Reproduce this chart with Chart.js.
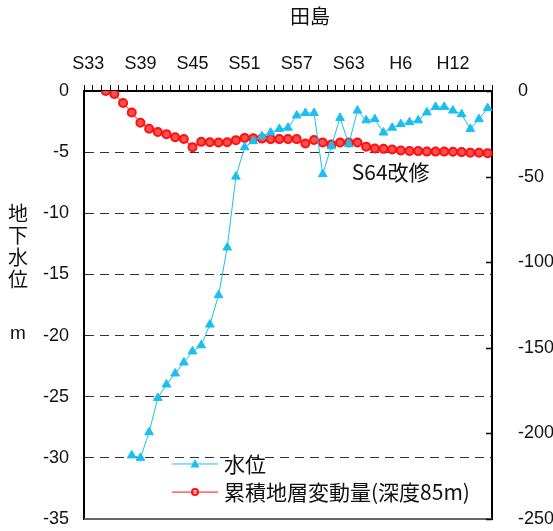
<!DOCTYPE html>
<html>
<head>
<meta charset="utf-8">
<script src="https://cdn.jsdelivr.net/npm/chart.js@4/dist/chart.umd.min.js"></script>
<style>
  body { margin: 0; background: #fff; }
  #wrap { width: 553px; height: 531px; }
</style>
</head>
<body>
<div id="wrap"><canvas id="chart" width="553" height="531"></canvas></div>
<script>
// Years: S33 .. S63, H1 .. H16
const years = [
    'S33','S34','S35','S36','S37','S38','S39','S40','S41','S42','S43','S44','S45','S46','S47','S48',
    'S49','S50','S51','S52','S53','S54','S55','S56','S57','S58','S59','S60','S61','S62','S63',
    'H1','H2','H3','H4','H5','H6','H7','H8','H9','H10','H11','H12','H13','H14','H15','H16'
];
const shownYears = ['S33','S39','S45','S51','S57','S63','H6','H12'];

// 水位 (m, left axis)
const waterLevel = [
    null, null, null, null, null,
    -29.8, -30.0, -27.9, -25.1, -24.0, -23.1, -22.2, -21.3, -20.8, -19.1, -16.7,
    -12.8, -7.0, -4.6, -4.1, -3.7, -3.4, -3.1, -3.0, -2.0, -1.8, -1.8, -6.8, -4.5, -2.2, -4.35,
    -1.6, -2.4, -2.3, -3.4, -3.0, -2.7, -2.55, -2.4, -1.75, -1.3, -1.3, -1.6, -1.9, -3.1, -2.3, -1.4
];

// 累積地層変動量 (cm, right axis)
const subsidence = [
    null, null,
    0, -1.7, -7.0, -12.6, -18.5, -22.1, -23.9, -25.2, -27.0, -28.0, -32.8, -29.7, -29.9, -30.1,
    -29.9, -28.7, -27.4, -27.6, -27.8, -28.1, -28.1, -28.1, -28.1, -30.7, -28.6, -30.1, -31.3, -30.1, -30.1,
    -30.1, -32.5, -33.6, -33.8, -34.2, -34.8, -35.0, -35.1, -35.4, -35.4, -35.4, -35.5, -35.7, -36.0, -36.1, -36.3
];

const BLUE = '#19BFF0';
const RED = '#FF1010';
const FONT = "'Liberation Sans', Arial, 'Noto Sans CJK JP', sans-serif";
const JP_FONT = "'Noto Sans CJK JP', 'Liberation Sans', sans-serif";

Chart.defaults.font.family = FONT;
Chart.defaults.font.size = 18;
Chart.defaults.color = '#111';

// extra drawing: title, axis title, legend, note, right ticks, bottom edge
const decorations = {
    id: 'decorations',
    afterDraw(chart) {
        const ctx = chart.ctx;
        const area = chart.chartArea;
        const x = chart.scales.x;
        const y = chart.scales.y;
        const y2 = chart.scales.y2;
        ctx.save();

        // bottom edge
        ctx.strokeStyle = '#666';
        ctx.lineWidth = 2;
        ctx.beginPath();
        ctx.moveTo(area.left, area.bottom);
        ctx.lineTo(area.right, area.bottom);
        ctx.stroke();

        // inward ticks on right axis
        ctx.strokeStyle = '#000';
        ctx.lineWidth = 1.5;
        y2.ticks.forEach(t => {
            const py = Math.round(y2.getPixelForValue(t.value)) + 0.5;
            ctx.beginPath();
            ctx.moveTo(area.right - 6, py);
            ctx.lineTo(area.right, py);
            ctx.stroke();
        });

        // title
        ctx.fillStyle = '#111';
        ctx.font = '20px ' + JP_FONT;
        ctx.textAlign = 'center';
        ctx.textBaseline = 'middle';
        ctx.fillText('田島', 310, 16);

        // vertical axis title
        const chars = ['地', '下', '水', '位'];
        chars.forEach((c, i) => ctx.fillText(c, 18, 213 + i * 22));
        ctx.font = '19px ' + FONT;
        ctx.fillText('m', 18, 334);

        // note
        ctx.font = '21px ' + JP_FONT;
        ctx.textAlign = 'left';
        ctx.fillText('S64改修', x.getPixelForValue(years.indexOf('S63')) + 3, y.getPixelForValue(-6.6));

        // legend
        const lx = area.left + 88;
        const items = [
            { text: '水位', color: BLUE, style: 'triangle', ly: y.getPixelForValue(-30.5) },
            { text: '累積地層変動量(深度85m)', color: RED, style: 'circle', ly: y.getPixelForValue(-32.8) }
        ];
        items.forEach(it => {
            ctx.strokeStyle = it.color;
            ctx.lineWidth = 1;
            ctx.beginPath();
            ctx.moveTo(lx, it.ly);
            ctx.lineTo(lx + 46, it.ly);
            ctx.stroke();
            ctx.fillStyle = it.color;
            ctx.beginPath();
            if (it.style === 'triangle') {
                ctx.moveTo(lx + 23, it.ly - 5);
                ctx.lineTo(lx + 27.5, it.ly + 3.5);
                ctx.lineTo(lx + 18.5, it.ly + 3.5);
                ctx.closePath();
                ctx.fill();
            } else {
                ctx.arc(lx + 23, it.ly, 3, 0, Math.PI * 2);
                ctx.lineWidth = 2;
                ctx.stroke();
            }
            ctx.fillStyle = '#111';
            ctx.font = '21px ' + JP_FONT;
            ctx.fillText(it.text, lx + 52, it.ly);
        });

        ctx.restore();
    }
};

// keep the plot area fixed: no extra room for edge labels
function noEdgePadding(s) {
    s.paddingTop = 0;
    s.paddingBottom = 0;
}

const ctx = document.getElementById('chart');

new Chart(ctx, {
    type: 'line',
    data: {
        labels: years,
        datasets: [
            {
                label: '水位',
                data: waterLevel,
                yAxisID: 'y',
                borderColor: BLUE,
                backgroundColor: BLUE,
                borderWidth: 1,
                pointStyle: 'triangle',
                pointRadius: 5,
                pointBorderWidth: 1,
                tension: 0
            },
            {
                label: '累積地層変動量(深度85m)',
                data: subsidence,
                yAxisID: 'y2',
                borderColor: RED,
                backgroundColor: '#FF5050',
                borderWidth: 1,
                pointStyle: 'circle',
                pointRadius: 4,
                pointBorderWidth: 2,
                tension: 0
            }
        ]
    },
    options: {
        responsive: false,
        animation: false,
        layout: { padding: { left: 40, right: 0, top: 0, bottom: 12 } },
        plugins: {
            legend: { display: false },
            tooltip: { enabled: false }
        },
        scales: {
            x: {
                position: 'top',
                offset: true,
                afterFit: s => { s.height = 91; s.paddingLeft = 0; s.paddingRight = 0; },
                grid: {
                    offset: true,
                    drawOnChartArea: false,
                    drawTicks: true,
                    tickLength: 6,
                    color: '#000',
                    lineWidth: 1
                },
                border: { display: true, color: '#000', width: 2 },
                ticks: {
                    autoSkip: false,
                    maxRotation: 0,
                    padding: 10,
                    color: '#111',
                    callback: function(value) {
                        const lbl = years[value];
                        return shownYears.includes(lbl) ? lbl : '';
                    }
                }
            },
            y: {
                position: 'left',
                min: -35,
                max: 0,
                afterFit: s => { s.width = 44; noEdgePadding(s); },
                grid: {
                    drawTicks: false,
                    color: c => (c.tick.value === 0 || c.tick.value === -35) ? 'rgba(0,0,0,0)' : '#333',
                    lineWidth: 1
                },
                border: { display: true, color: '#000', width: 2, dash: [9, 6] },
                ticks: { stepSize: 5, padding: 15, color: '#111' }
            },
            y2: {
                position: 'right',
                min: -250,
                max: 0,
                afterFit: s => { s.width = 61; noEdgePadding(s); },
                grid: { display: false, drawOnChartArea: false },
                border: { display: true, color: '#000', width: 2 },
                ticks: { stepSize: 50, padding: 18, color: '#111' }
            }
        }
    },
    plugins: [decorations]
});
</script>
</body>
</html>
